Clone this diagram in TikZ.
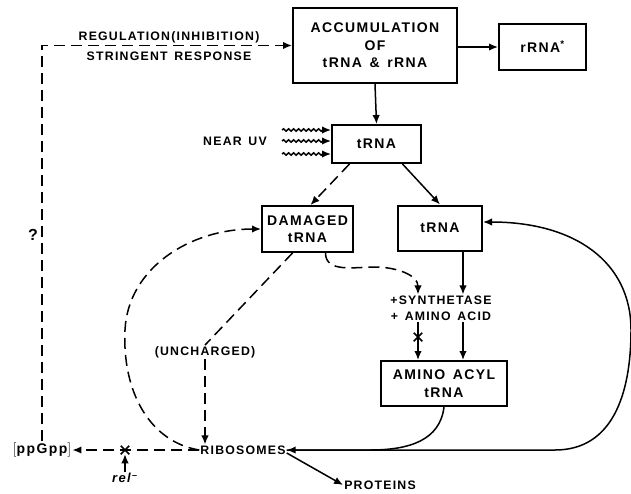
\documentclass[tikz,border=0pt]{standalone}
\usepackage{fontspec}
\setmainfont{Liberation Sans}[LetterSpace=10]
\usepackage{tikz}
\usetikzlibrary{arrows.meta, positioning, shapes.misc, decorations.pathmorphing}

\tikzset{
  bigtext/.style={font=\bfseries\fontsize{14}{17.5}\selectfont, align=center},
  smalltext/.style={font=\bfseries\fontsize{12.3}{16}\selectfont, align=center, inner sep=1pt},
  stage/.style={draw, line width=2pt, bigtext, inner sep=0pt},
  arr/.style={line width=1.5pt, -{Latex[length=9pt,width=7.5pt]}},
  dash arr/.style={arr, dash pattern=on 11pt off 6pt},
  blocked/.style={draw, cross out, line width=1.5pt, minimum size=7pt, inner sep=0pt},
  uv/.style={arr, decorate, decoration={snake, amplitude=1.2pt, segment length=5pt, post length=8pt}}
}

\begin{document}
\begin{tikzpicture}[x=1pt, y=-1pt]
    \useasboundingbox (0,0) rectangle (631,493);

    % Boxes
    \node[stage, minimum width=164pt, minimum height=75pt] (accum) at (375,45.5) {ACCUMULATION\\OF\\tRNA \,\& \,rRNA};
    \node[stage, minimum width=87pt, minimum height=46pt] (rrna) at (542.5,47) {rRNA\textsuperscript{*}};
    \node[stage, minimum width=89pt, minimum height=38pt] (trnaA) at (376.5,144) {tRNA};
    \node[stage, minimum width=91pt, minimum height=46pt] (damaged) at (307.5,229) {DAMAGED\\tRNA};
    \node[stage, minimum width=84pt, minimum height=45pt] (trnaB) at (440,228) {tRNA};
    \node[stage, minimum width=126pt, minimum height=45pt] (aminoacyl) at (444,383.5) {AMINO \,ACYL\\tRNA};

    % Labels
    \node[smalltext] (regul) at (169,37) {REGULATION(INHIBITION)};
    \node[smalltext] (stringent) at (169,56) {STRINGENT \,RESPONSE};
    \node[smalltext] (nearuv) at (235,141) {NEAR \,UV};
    \node[smalltext] (synth) at (441,308) {+SYNTHETASE\\+ \,AMINO \,ACID};
    \node[smalltext] (uncharged) at (205,352) {(UNCHARGED)};
    \node[smalltext] (ribo) at (243,450) {RIBOSOMES};
    \node[smalltext] (proteins) at (380,485) {PROTEINS};
    \node[font=\bfseries\fontsize{14}{16}\selectfont, inner sep=1pt] (ppgpp) at (42,450) {$\Bigl[$ppGpp$\Bigr]$};
    \node[font=\bfseries\fontsize{13}{14}\selectfont, inner sep=1pt] (rel) at (125,478) {\textit{rel}\textsuperscript{--}};
    \node[font=\bfseries\fontsize{16}{18}\selectfont] (quest) at (33,235) {?};

    % Blocked steps
    \node[blocked] (xrel) at (125,450) {};
    \node[blocked] (xsynth) at (418,337) {};

    % Near UV
    \foreach \yy in {130,141,154}
        \draw[uv] (282,\yy) -- (trnaA.west |- 0,\yy);

    % Main flow
    \draw[arr] (accum.east |- rrna.west) -- (rrna.west);
    \draw[arr] (accum.south) -- (trnaA.north);
    \draw[dash arr] ([xshift=-27pt]trnaA.south) -- ([xshift=3pt]damaged.north);
    \draw[arr] ([xshift=26pt]trnaA.south) -- (trnaB.north);
    \draw[arr] ([xshift=23pt]trnaB.south) -- ([xshift=22pt]synth.north);
    \draw[dash arr] ([xshift=18pt]damaged.south) to[out=-90, in=180] (375,267) to[out=0, in=90] ([xshift=-23pt]synth.north);
    \draw[arr] ([xshift=22pt]synth.south) -- ([xshift=19pt]aminoacyl.north);
    \draw[arr] ([xshift=-23pt]synth.south) -- ([xshift=-26pt]aminoacyl.north);
    \draw[arr] (aminoacyl.south) .. controls (440,440) and (410,450) .. (370,450) -- (ribo.east);
    \draw[arr] (ribo.east) -- (555,450) .. controls (612,450) and (631,395) .. (631,330)
        .. controls (631,262) and (575,222) .. ([yshift=6pt]trnaB.east);
    \draw[arr] ([yshift=-3pt]ribo.east) -- (proteins.west);

    % Damaged tRNA back to ribosomes
    \draw[dash pattern=on 11pt off 6pt, line width=1.5pt] ([xshift=-15pt]damaged.south) -- (uncharged.north);
    \draw[dash arr] (uncharged.south) -- (uncharged.south |- ribo.north);
    \draw[dash arr] (ribo.west) .. controls (150,442) and (122,392) .. (125,330)
        .. controls (128,268) and (190,229) .. (damaged.west);

    % ppGpp and feedback
    \draw[dash arr] (ribo.west) -- (ppgpp.east);
    \draw[arr] (rel.north) -- (xrel.south);
    \draw[dash arr] (ppgpp.north) |- (accum.west);
\end{tikzpicture}
\end{document}
